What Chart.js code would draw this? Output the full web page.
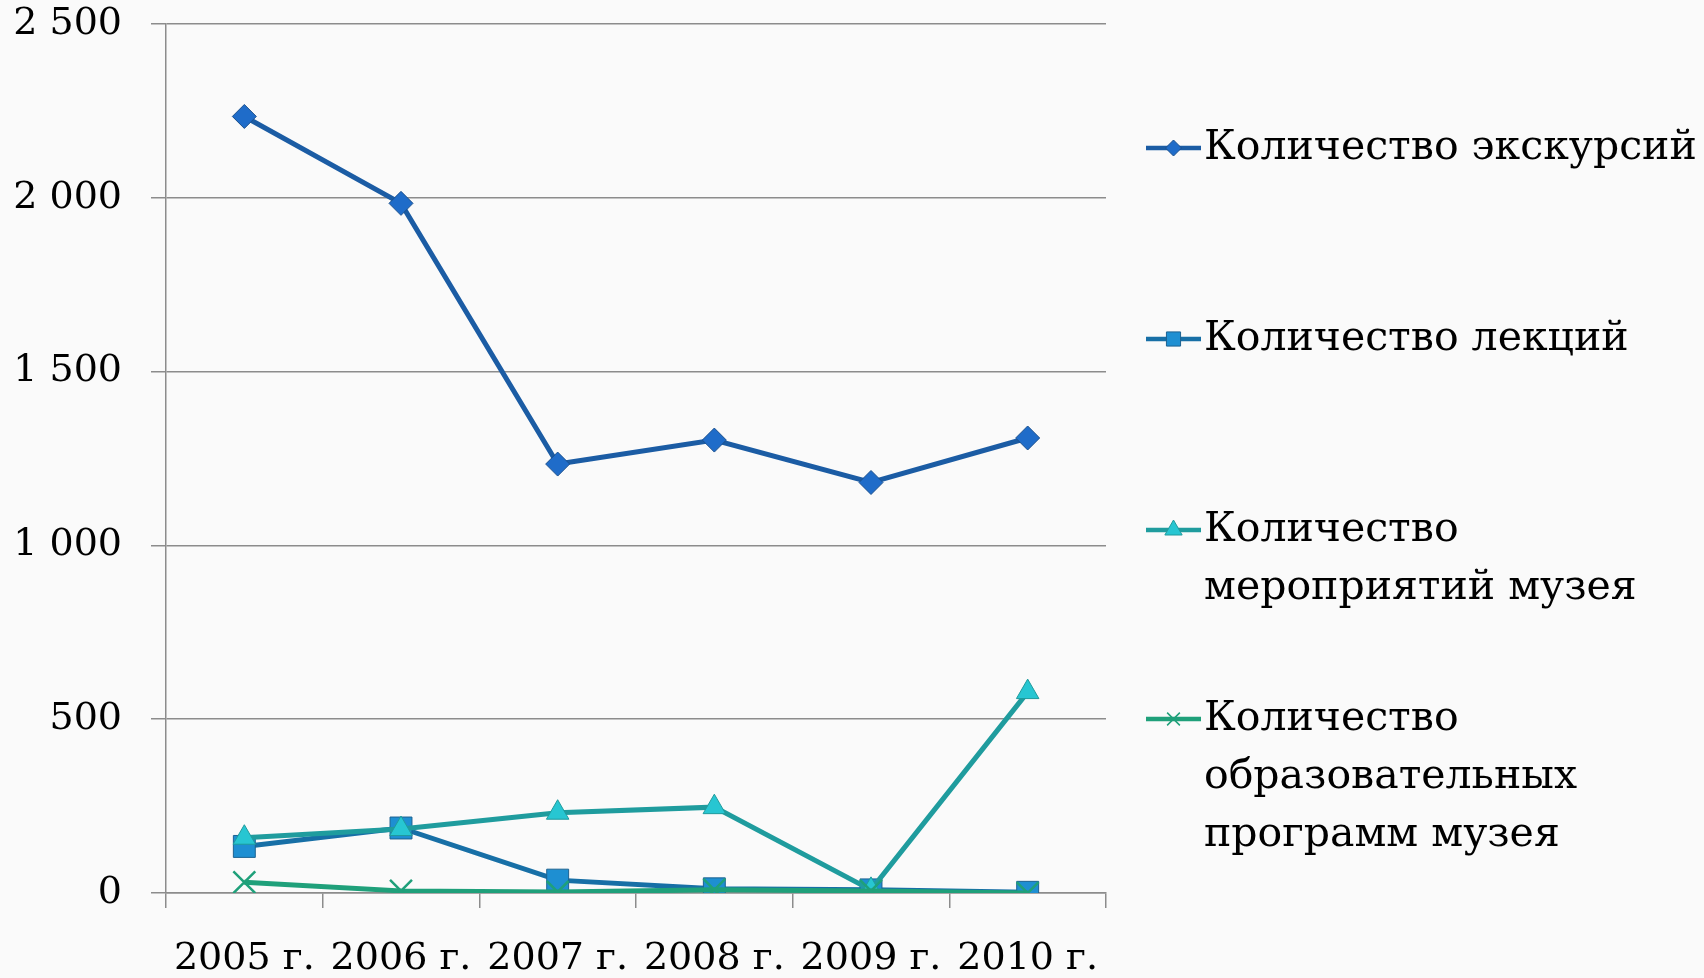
<!DOCTYPE html>
<html><head><meta charset="utf-8">
<script src="https://cdn.jsdelivr.net/npm/chart.js@4.4.1/dist/chart.umd.min.js"></script>
<style>html,body{margin:0;padding:0;background:#fafafa;}#wrap{width:1704px;height:978px;}</style>
</head><body><div id="wrap"><canvas id="c" width="1704" height="978"></canvas></div>
<script>
const categories = ['2005 г.', '2006 г.', '2007 г.', '2008 г.', '2009 г.', '2010 г.'];
const excursions = [2234, 1984, 1234, 1303, 1181, 1309];
const lectures = [134, 187, 37, 12, 9, 2];
const events = [159, 184, 231, 247, 9, 578];
const programs = [31, 6, 3, 9, 6, 0];
const seriesNames = ['Количество экскурсий', 'Количество лекций', 'Количество мероприятий музея', 'Количество образовательных программ музея'];
const legendLines = [['Количество экскурсий'], ['Количество лекций'], ['Количество', 'мероприятий музея'], ['Количество', 'образовательных', 'программ музея']];
const yTickValues = [0, 500, 1000, 1500, 2000, 2500];
const yTickLabels = ['0', '500', '1 000', '1 500', '2 000', '2 500'];

const FONT = '"DejaVu Serif", serif';

const legendPlugin = {
  id: 'sideLegend',
  afterDraw(chart) {
    const ctx = chart.ctx;
    const itemY = [148, 339, 530, 719];
    const lineH = 58;
    const x0 = 1146, x1 = 1201, tx = 1204;
    const legendRadius = [8, 10, 10, 9];
    chart.data.datasets.forEach((ds, i) => {
      const y = itemY[i];
      ctx.save();
      ctx.strokeStyle = ds.borderColor;
      ctx.lineWidth = 4.5;
      ctx.beginPath(); ctx.moveTo(x0, y); ctx.lineTo(x1, y); ctx.stroke();
      ctx.fillStyle = ds.pointBackgroundColor;
      ctx.strokeStyle = ds.pointBorderColor;
      ctx.lineWidth = ds.pointStyle === 'crossRot' ? 1.5 : 1;
      Chart.helpers.drawPoint(ctx, {pointStyle: ds.pointStyle, radius: legendRadius[i], rotation: 0, borderWidth: ctx.lineWidth}, (x0 + x1) / 2, y);
      ctx.restore();
      ctx.save();
      ctx.fillStyle = '#000';
      ctx.font = '41px ' + FONT;
      ctx.textBaseline = 'middle';
      ctx.textAlign = 'left';
      legendLines[i].forEach((t, k) => ctx.fillText(t, tx, y + k * lineH));
      ctx.restore();
    });
  }
};

new Chart(document.getElementById('c'), {
  type: 'line',
  data: {
    labels: categories,
    datasets: [
      {label: seriesNames[0], data: excursions, borderColor: '#1b5ca4', borderWidth: 5, pointStyle: 'rectRot', pointRadius: 12, pointBackgroundColor: '#1f6cc9', pointBorderColor: '#1a4f8c', pointBorderWidth: 1, order: 3},
      {label: seriesNames[1], data: lectures, borderColor: '#176fa6', borderWidth: 5, pointStyle: 'rect', pointRadius: 15.5, pointBackgroundColor: '#1e8fd2', pointBorderColor: '#1d6291', pointBorderWidth: 1, order: 2},
      {label: seriesNames[2], data: events, borderColor: '#1f9c9e', borderWidth: 5, pointStyle: 'triangle', pointRadius: 13, pointBackgroundColor: '#27c6d2', pointBorderColor: '#1f9a9c', pointBorderWidth: 1, order: 1},
      {label: seriesNames[3], data: programs, borderColor: '#1fa07a', borderWidth: 5, pointStyle: 'crossRot', pointRadius: 15.5, pointBackgroundColor: '#1fa07a', pointBorderColor: '#1fa07a', pointBorderWidth: 2.5, order: 0}
    ]
  },
  options: {
    responsive: false,
    animation: false,
    devicePixelRatio: 1,
    layout: {padding: {top: 24, right: 598, left: 0, bottom: 0}},
    plugins: {legend: {display: false}, tooltip: {enabled: false}},
    elements: {line: {tension: 0}},
    scales: {
      x: {
        offset: true,
        grid: {display: true, drawOnChartArea: false, drawTicks: true, tickLength: 15, color: '#8c8c8c', lineWidth: 1.5, offset: true},
        border: {display: true, color: '#8c8c8c', width: 1.5},
        ticks: {color: '#000', font: {family: FONT, size: 38}, padding: 28, maxRotation: 0, autoSkip: false},
        afterFit(s) { s.height = 85; s.paddingLeft = 0; s.paddingRight = 0; }
      },
      y: {
        min: 0, max: 2500,
        afterBuildTicks(s) { s.ticks = yTickValues.map(v => ({value: v})); },
        grid: {color: '#8c8c8c', lineWidth: 1.5, tickLength: 15},
        border: {display: true, color: '#8c8c8c', width: 1.5},
        ticks: {color: '#000', font: {family: FONT, size: 38}, padding: 29,
          callback(v, i) { return yTickLabels[yTickValues.indexOf(v)]; }},
        afterFit(s) { s.width = 166; s.paddingTop = 0; s.paddingBottom = 0; }
      }
    }
  },
  plugins: [legendPlugin]
});
</script></body></html>
